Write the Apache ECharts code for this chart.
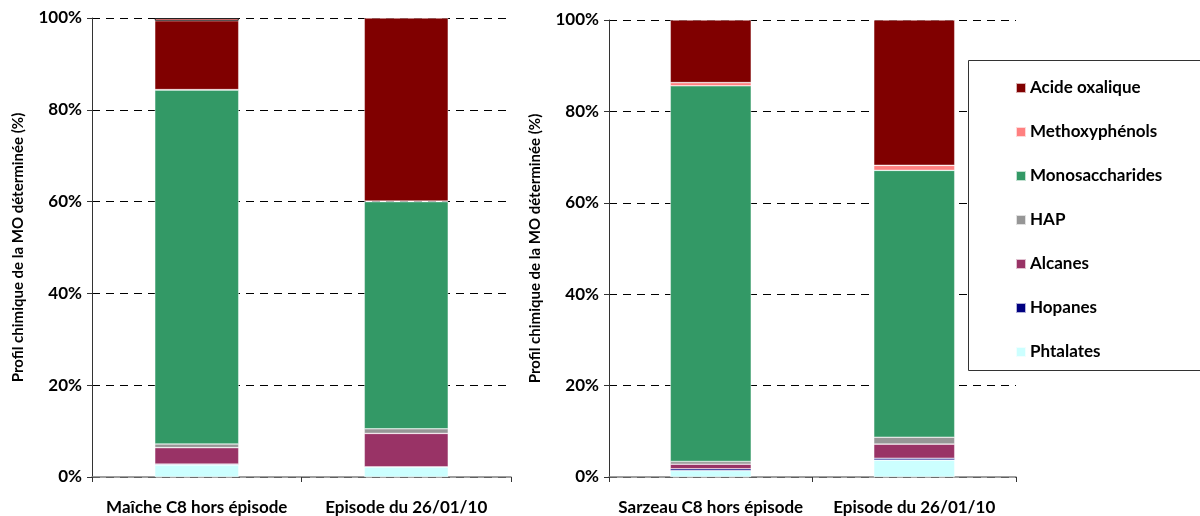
<!DOCTYPE html>
<html>
<head>
<meta charset="utf-8">
<script src="https://cdn.jsdelivr.net/npm/echarts@6/dist/echarts.min.js"></script>
<style>html,body{margin:0;padding:0;background:#fff}#c{width:1200px;height:516px}</style>
</head>
<body>
<div id="c"></div>
<script>
const categoriesLeft = ['Maîche C8 hors épisode', 'Episode du 26/01/10'];
const categoriesRight = ['Sarzeau C8 hors épisode', 'Episode du 26/01/10'];
const seriesNames = ['Phtalates', 'Hopanes', 'Alcanes', 'HAP', 'Monosaccharides', 'Methoxyphénols', 'Acide oxalique'];
const seriesColors = ['#ccffff', '#000080', '#993366', '#969696', '#339966', '#ff8080', '#800000'];
// values (%) per series, [cat1, cat2]
const leftPhtalates = [2.6, 2.2];
const leftHopanes = [0.2, 0.0];
const leftAlcanes = [3.6, 7.3];
const leftHAP = [0.8, 1.0];
const leftMonosaccharides = [77.1, 49.5];
const leftMethoxyphenols = [0.1, 0.1];
const leftAcideOxalique = [15.0, 39.9];
const leftMethoxyphenolsTop = [0.6, null];
const rightPhtalates = [1.4, 3.7];
const rightHopanes = [0.4, 0.4];
const rightAlcanes = [1.0, 3.1];
const rightHAP = [0.6, 1.5];
const rightMonosaccharides = [82.2, 58.4];
const rightMethoxyphenols = [0.7, 1.1];
const rightAcideOxalique = [13.7, 31.8];
const yTicks = [0, 20, 40, 60, 80, 100];
const yAxisTitle = 'Profil chimique de la MO déterminée (%)';

const leftData = [leftPhtalates, leftHopanes, leftAlcanes, leftHAP, leftMonosaccharides, leftMethoxyphenols, leftAcideOxalique];
const rightData = [rightPhtalates, rightHopanes, rightAlcanes, rightHAP, rightMonosaccharides, rightMethoxyphenols, rightAcideOxalique];

const FONT = 'Lato';
const chart = echarts.init(document.getElementById('c'), null, {renderer: 'canvas'});

function yAxis(gridIndex) {
  return {
    type: 'value', gridIndex, min: yTicks[0], max: yTicks[yTicks.length - 1], interval: 20,
    axisLabel: {formatter: v => v + '%', fontFamily: FONT, fontWeight: 'bold', fontSize: 17, color: '#000', margin: 10},
    axisLine: {show: true, lineStyle: {color: '#333', width: 1}},
    axisTick: {show: true, length: 5, lineStyle: {color: '#333'}},
    splitLine: {show: true, lineStyle: {color: '#000', type: [8, 6], width: 1}},
    name: yAxisTitle, nameLocation: 'middle', nameRotate: 90, nameGap: 66,
    nameTextStyle: {fontFamily: FONT, fontWeight: 'bold', fontSize: 15, color: '#000'}
  };
}
function xAxis(gridIndex, cats) {
  return {
    type: 'category', gridIndex, data: cats,
    axisLine: {show: true, lineStyle: {color: '#808080', width: 1.5}},
    axisTick: {show: true, length: 5, lineStyle: {color: '#333'}},
    axisLabel: {interval: 0, fontFamily: FONT, fontWeight: 'bold', fontSize: 17, color: '#000', margin: 22}
  };
}
const series = [];
seriesNames.forEach((n, i) => {
  series.push({
    name: n, type: 'bar', stack: 'L', xAxisIndex: 0, yAxisIndex: 0, barWidth: 84,
    data: leftData[i], itemStyle: {color: seriesColors[i], borderColor: 'rgba(255,255,255,0.7)', borderWidth: 0.6}
  });
});
series.push({
  name: 'Methoxyphénols', type: 'bar', stack: 'L', xAxisIndex: 0, yAxisIndex: 0, barWidth: 84,
  data: leftMethoxyphenolsTop, itemStyle: {color: '#ff8080', borderColor: '#222', borderWidth: 1}
});
seriesNames.forEach((n, i) => {
  series.push({
    name: n, type: 'bar', stack: 'R', xAxisIndex: 1, yAxisIndex: 1, barWidth: 81,
    data: rightData[i], itemStyle: {color: seriesColors[i], borderColor: 'rgba(255,255,255,0.7)', borderWidth: 0.6}
  });
});

chart.setOption({
  animation: false,
  backgroundColor: '#fff',
  grid: [
    {left: 92, top: 18, width: 419, height: 459},
    {left: 609, top: 20, width: 407, height: 457}
  ],
  xAxis: [xAxis(0, categoriesLeft), xAxis(1, categoriesRight)],
  yAxis: [yAxis(0), yAxis(1)],
  legend: {
    data: seriesNames.slice().reverse(),
    orient: 'vertical', left: 1010, top: 74, z: 10,
    itemWidth: 10, itemHeight: 10, itemGap: 26, icon: 'rect',
    selectedMode: false,
    textStyle: {fontFamily: FONT, fontWeight: 'bold', fontSize: 17, color: '#000', lineHeight: 18, padding: [0, 0, 0, -1]}
  },
  graphic: [{
    type: 'rect', z: 5, left: 968, top: 60,
    shape: {width: 250, height: 310},
    style: {fill: '#fff', stroke: '#333', lineWidth: 1}
  }],
  series
});
</script>
</body>
</html>
